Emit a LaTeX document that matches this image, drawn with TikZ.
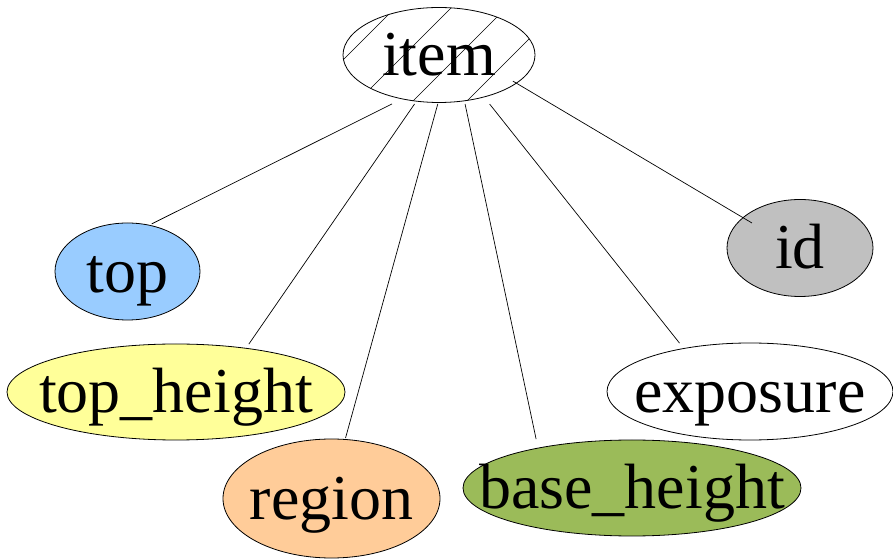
\documentclass[tikz,border=0pt]{standalone}
\usepackage{fontspec}
\setmainfont{Liberation Serif}
\usepackage{tikz}
\usetikzlibrary{shapes.geometric}
\definecolor{topblue}{RGB}{153,204,255}
\definecolor{idgray}{RGB}{192,192,192}
\definecolor{heightyellow}{RGB}{255,255,153}
\definecolor{regionorange}{RGB}{255,204,153}
\definecolor{basegreen}{RGB}{155,187,89}

\begin{document}
\begin{tikzpicture}[
    x=1pt, y=1pt,
    attr/.style={ellipse, draw, line width=0.8pt, inner sep=0pt, outer sep=0pt,
        text height=48pt, text depth=6pt, font=\fontsize{64}{70}\selectfont},
    link/.style={line width=0.7pt}
]
\useasboundingbox (0,0) rectangle (893,559);

% hatching inside the root ellipse
\begin{scope}
  \clip (439,504) ellipse [x radius=96, y radius=47.5];
  \foreach \c in {-156,-100,-45,9}
    \draw[link] (\c+430,430) -- (\c+580,580);
\end{scope}

% root entity and its attributes
\node[attr, minimum width=192pt, minimum height=95pt] (item) at (439,504) {\makebox[0pt]{item}};
\node[attr, fill=topblue, minimum width=145pt, minimum height=97pt] (top) at (127.5,287.5) {\makebox[0pt]{top}};
\node[attr, fill=idgray, minimum width=146pt, minimum height=97pt] (id) at (800,311) {\makebox[0pt]{id}};
\node[attr, fill=heightyellow, minimum width=338pt, minimum height=96pt] (topheight) at (176,167) {\makebox[0pt]{top\_height}};
\node[attr, fill=white, minimum width=286pt, minimum height=97pt] (exposure) at (750,167.5) {\makebox[0pt]{exposure}};
\node[attr, fill=regionorange, minimum width=217pt, minimum height=119pt] (region) at (331.5,60.5) {\makebox[0pt]{region}};
\node[attr, fill=basegreen, minimum width=338pt, minimum height=96pt] (baseheight) at (632,71) {\makebox[0pt]{base\_height}};

% links from item
\draw[link, shorten <=11.4pt, shorten >=2.9pt] (item.230) -- (top.65);
\draw[link, shorten <=3.4pt, shorten >=5.1pt] (item.244) -- (topheight.32);
\draw[link, shorten <=1.5pt, shorten >=1.5pt] (item.269) -- (region.77);
\draw[link, shorten <=3.3pt, shorten >=9.2pt] (item.299) -- (baseheight.157);
\draw[link, shorten <=9.1pt, shorten >=6.9pt] (item.317) -- (exposure.147);
\draw[link, shorten <=-4pt, shorten >=-10.4pt] (item.340) -- (id.152);

\end{tikzpicture}
\end{document}
